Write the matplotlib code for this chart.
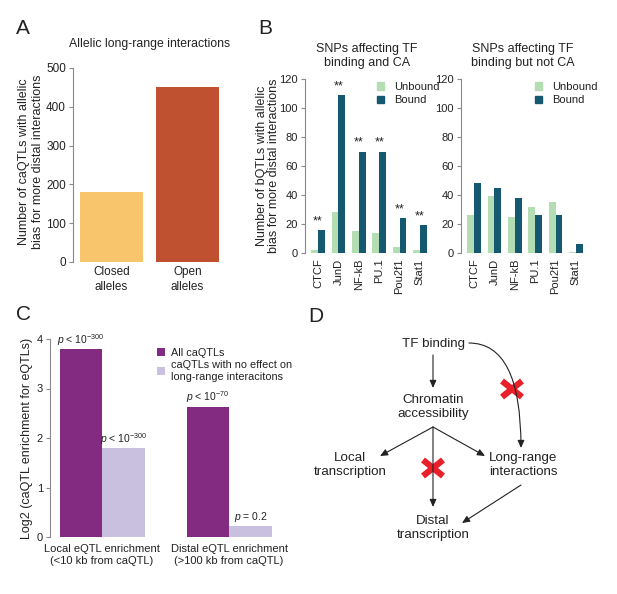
import matplotlib
matplotlib.use("Agg")
import matplotlib.pyplot as plt
from matplotlib.patches import Patch
import numpy as np

plt.rcParams['font.family'] = ['Liberation Sans', 'DejaVu Sans']
plt.rcParams['mathtext.fontset'] = 'custom'
plt.rcParams['mathtext.rm'] = 'Liberation Sans'
plt.rcParams['mathtext.it'] = 'Liberation Sans:italic'

# ---------------- data ----------------
a_categories = ["Closed\nalleles", "Open\nalleles"]
a_values = [180, 452]

b_tfs = ["CTCF", "JunD", "NF-kB", "PU.1", "Pou2f1", "Stat1"]
b_left_unbound = [2, 28, 15, 14, 4, 2]
b_left_bound = [16, 109, 70, 70, 24, 19]
b_left_sig = ["**", "**", "**", "**", "**", "**"]
b_right_unbound = [26, 39, 25, 32, 35, 1]
b_right_bound = [48, 45, 38, 26, 26, 6]

c_groups = ["Local eQTL enrichment\n(<10 kb from caQTL)",
            "Distal eQTL enrichment\n(>100 kb from caQTL)"]
c_all = [3.8, 2.63]
c_noeffect = [1.8, 0.23]
c_all_p = [r"$p$ < 10$^{-300}$", r"$p$ < 10$^{-70}$"]
c_noeffect_p = [r"$p$ < 10$^{-300}$", r"$p$ = 0.2"]

# ---------------- style ----------------
W, H = 617, 594
fig = plt.figure(figsize=(W / 100, H / 100), dpi=100)
fig.patch.set_facecolor("white")

GRAY = "#8a8a8a"
TXT = "#222222"
C_CLOSED, C_OPEN = "#F8C46C", "#C05130"
C_UNB, C_BND = "#B4DDB3", "#14596F"
C_ALL, C_NO = "#832B80", "#C9C0DF"


def px_axes(x0, y0, x1, y1):
    return fig.add_axes([x0 / W, 1 - y1 / H, (x1 - x0) / W, (y1 - y0) / H])


def style(ax, fs=7):
    for s in ("top", "right", "bottom"):
        ax.spines[s].set_visible(False)
    ax.spines["left"].set_color(GRAY)
    ax.spines["left"].set_linewidth(0.8)
    ax.tick_params(axis="y", colors=GRAY, labelcolor=TXT, labelsize=fs,
                   length=3, width=0.8, pad=2)
    ax.tick_params(axis="x", length=0, labelcolor=TXT, labelsize=fs)
    ax.set_facecolor("none")


def ftext(x, y, s, **kw):
    kw.setdefault("color", TXT)
    fig.text(x / W, 1 - y / H, s, **kw)


# ---------------- Panel A ----------------
axA = px_axes(73, 68, 226, 262)
xa = np.arange(len(a_values))
axA.bar(xa, a_values, width=0.83, color=[C_CLOSED, C_OPEN])
axA.set_xlim(-0.507, 1.507)
axA.set_ylim(0, 500)
axA.set_yticks([0, 100, 200, 300, 400, 500])
axA.set_xticks(xa)
axA.set_xticklabels(a_categories, fontsize=9, linespacing=1.3)
style(axA, 8.5)
axA.tick_params(axis="x", pad=3)
ftext(150, 44, "Allelic long-range interactions", ha="center", va="center", fontsize=8.8)
ftext(31, 162, "Number of caQTLs with allelic\nbias for more distal interactions",
      ha="center", va="center", rotation=90, fontsize=9, linespacing=1.15)
ftext(16, 29, "A", ha="left", va="center", fontsize=15)

# ---------------- Panel B ----------------
def panel_b(x0, unb, bnd, sig):
    ax = px_axes(x0, 79, x0 + 128, 253)
    x = np.arange(len(b_tfs))
    w = 0.33
    ax.bar(x - w / 2, unb, width=w, color=C_UNB, label="Unbound")
    ax.bar(x + w / 2, bnd, width=w, color=C_BND, label="Bound")
    ax.set_xlim(-0.64, 5.64)
    ax.set_ylim(0, 120)
    ax.set_yticks(range(0, 121, 20))
    ax.set_xticks(x)
    ax.set_xticklabels(b_tfs, rotation=90, fontsize=8)
    style(ax, 8)
    ax.tick_params(axis="x", pad=4)
    if sig is not None:
        for xi, v, s in zip(x, bnd, sig):
            ax.annotate(s, (xi, v), xytext=(0, 2), textcoords="offset points",
                        ha="center", va="bottom", fontsize=9, color=TXT)
    handles = [Patch(color=C_UNB), Patch(color=C_BND)]
    return ax, handles


axBL, hBL = panel_b(305, b_left_unbound, b_left_bound, b_left_sig)
axBR, hBR = panel_b(461, b_right_unbound, b_right_bound, None)
for ax, h, lx in ((axBL, hBL, 377), (axBR, hBR, 535)):
    ax.legend(h, ["Unbound", "Bound"], loc="upper left",
              bbox_to_anchor=(lx / W, 1 - 82 / H), bbox_transform=fig.transFigure,
              frameon=False, handlelength=0.65, handleheight=0.65, handletextpad=0.9,
              borderaxespad=0, borderpad=0, labelspacing=0.3, fontsize=8,
              labelcolor=TXT)
ftext(367, 56, "SNPs affecting TF\nbinding and CA", ha="center", va="center",
      fontsize=9, linespacing=1.15)
ftext(523, 56, "SNPs affecting TF\nbinding but not CA", ha="center", va="center",
      fontsize=9, linespacing=1.15)
ftext(268, 166, "Number of bQTLs with allelic\nbias for more distal interactions",
      ha="center", va="center", rotation=90, fontsize=9, linespacing=1.1)
ftext(258, 29, "B", ha="left", va="center", fontsize=15)

# ---------------- Panel C ----------------
axC = px_axes(50, 339, 280, 537)
xc = np.arange(len(c_groups))
wc = 0.335
axC.bar(xc - wc / 2, c_all, width=wc, color=C_ALL, label="All caQTLs")
axC.bar(xc + wc / 2, c_noeffect, width=wc, color=C_NO,
        label="caQTLs with no effect on\nlong-range interacitons")
axC.set_xlim(-0.41, 1.40)
axC.set_ylim(0, 4)
axC.set_yticks([0, 1, 2, 3, 4])
axC.set_xticks(xc)
axC.set_xticklabels(c_groups, fontsize=7.5, linespacing=1.25)
style(axC, 8)
axC.tick_params(axis="x", pad=5)
for xi, v, s in zip(xc - wc / 2, c_all, c_all_p):
    axC.annotate(s, (xi, v), xytext=(0, 1), textcoords="offset points",
                 ha="center", va="bottom", fontsize=7.5, color=TXT)
for xi, v, s in zip(xc + wc / 2, c_noeffect, c_noeffect_p):
    axC.annotate(s, (xi, v), xytext=(0, 1), textcoords="offset points",
                 ha="center", va="bottom", fontsize=7.5, color=TXT)
axC.legend(loc="upper left", bbox_to_anchor=(157 / W, 1 - 348 / H),
           bbox_transform=fig.transFigure, frameon=False, handlelength=0.75,
           handleheight=0.75, handletextpad=0.5, borderaxespad=0, borderpad=0,
           labelspacing=0.2, fontsize=7.8, labelcolor=TXT)
ftext(27, 438, "Log2 (caQTL enrichment for eQTLs)", ha="center", va="center",
      rotation=90, fontsize=9)
ftext(16, 315, "C", ha="left", va="center", fontsize=15)

# ---------------- Panel D ----------------
axD = fig.add_axes([0, 0, 1, 1])
axD.set_xlim(0, W)
axD.set_ylim(H, 0)
axD.axis("off")
axD.patch.set_alpha(0)

nodes = {
    "tf": (433, 344, "TF binding"),
    "ca": (433, 407, "Chromatin\naccessibility"),
    "local": (350, 465, "Local\ntranscription"),
    "long": (523, 465, "Long-range\ninteractions"),
    "distal": (433, 528, "Distal\ntranscription"),
}
for key, (x, y, s) in nodes.items():
    axD.text(x, y, s, ha="center", va="center", fontsize=9.6, color=TXT,
             linespacing=1.3)

arrows = [
    ((433, 355), (433, 388), "arc3"),
    ((433, 427), (380, 456), "arc3"),
    ((433, 427), (485, 456), "arc3"),
    ((433, 427), (433, 507), "arc3"),
    ((521, 485), (462, 523), "arc3"),
    ((469, 343), (521, 448), "angle3,angleA=0,angleB=90"),
]
for (x1, y1), (x2, y2), cs in arrows:
    axD.annotate("", xy=(x2, y2), xytext=(x1, y1),
                 arrowprops=dict(arrowstyle="-|>,head_length=0.45,head_width=0.2",
                                 color="#222222", lw=0.8, shrinkA=0, shrinkB=0,
                                 connectionstyle=cs))

for cx, cy in ((433, 468), (512, 389)):
    axD.plot([cx - 10, cx + 10], [cy - 8, cy + 8], color="#E8202A", lw=4.5,
             solid_capstyle="butt")
    axD.plot([cx - 10, cx + 10], [cy + 8, cy - 8], color="#E8202A", lw=4.5,
             solid_capstyle="butt")

ftext(308, 317, "D", ha="left", va="center", fontsize=15)

fig.savefig("out.png", dpi=100)
